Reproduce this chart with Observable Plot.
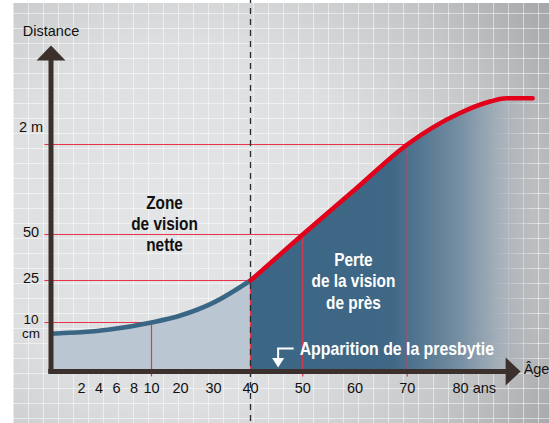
<!DOCTYPE html>
<html>
<head>
<meta charset="utf-8">
<script src="https://cdn.jsdelivr.net/npm/d3@7"></script>
<script src="https://cdn.jsdelivr.net/npm/@observablehq/plot@0.6"></script>
<style>
  html, body { margin: 0; padding: 0; background: #fff; }
  #wrap { position: relative; width: 549px; height: 423px; overflow: hidden; background: #fff; }
  #bg {
    position: absolute; left: 13px; top: 3px; right: 0; bottom: 0;
    background:
      repeating-linear-gradient(to right, rgba(255,255,255,0.5) 0 1px, transparent 1px 15px),
      repeating-linear-gradient(to bottom, rgba(255,255,255,0.5) 0 1px, transparent 1px 15px) 0 10px,
      radial-gradient(ellipse 430px 400px at 170px 220px, #e4e5e6 0%, #dedfe0 45%, #c4c6c8 75%, #a6a8aa 100%);
  }
  #chart { position: absolute; left: 0; top: 0; }
</style>
</head>
<body>
<div id="wrap"><div id="bg"></div><div id="chart"></div></div>
<script>
// ---- data ----
const ages      = [0,   5,   10, 20,   30,   40, 50, 60,  70,  80,  86,  89,  94];
const distances = [7.7, 8.5, 10, 12.5, 17.1, 25, 50, 125, 200, 252, 272, 277, 277];
const xTicks = [2, 4, 6, 8, 10, 20, 30, 40, 50, 60, 70];
const xLastTick = 80;
const yTicks = [10, 25, 50, 200];
const yTickLabels = ["10\ncm", "25", "50", "2 m"];
const markerAges = [10, 40, 50, 70];
const markerDistances = [10, 25, 50, 200];
const presbyopiaAge = 40;
const onsetAge = 45;
const xAxisEnd = 91.7;   // age at arrow tip
const yAxisEnd = 365;    // distance at arrow tip

const curve = ages.map((a, i) => ({age: a, dist: distances[i]}));
const before = curve.filter(d => d.age <= presbyopiaAge);
const after = curve.filter(d => d.age >= presbyopiaAge);
const markers = markerAges.map((a, i) => ({age: a, dist: markerDistances[i]}));
const yLabelData = yTicks.map((v, i) => ({v, label: yTickLabels[i]}));

const arrowUp = {draw(ctx) { ctx.moveTo(0, 0); ctx.lineTo(14.5, 15); ctx.lineTo(-14.5, 15); ctx.closePath(); }};
const arrowRight = {draw(ctx) { ctx.moveTo(0, 0); ctx.lineTo(-15, -14); ctx.lineTo(-15, 14); ctx.closePath(); }};
const cornerLine = {draw(ctx) { ctx.moveTo(17, -23); ctx.lineTo(1.5, -23); ctx.lineTo(1.5, -13); }};
const cornerHead = {draw(ctx) { ctx.moveTo(-4.5, -13.5); ctx.lineTo(7.5, -13.5); ctx.lineTo(1.5, -4); ctx.closePath(); }};

const axisColor = "#3b302b";
const red = "#e2001a";
const thinRed = "#e8334a";
const boldFont = "Liberation Sans, Arial, Helvetica, sans-serif";

const svg = Plot.plot({
  width: 549,
  height: 423,
  margin: 0,
  style: {background: "transparent", fontFamily: "Liberation Sans, Arial, Helvetica, sans-serif", overflow: "visible"},
  x: {type: "linear", domain: [0, 2, 10, 20, 30, 40, 80], range: [50.5, 81, 151, 180, 213, 250, 459], axis: null},
  y: {type: "linear", domain: [0, 10, 25, 50, 200, 300], range: [371, 322, 280, 234, 144, 84], axis: null},
  marks: [
    Plot.areaY(before, {x: "age", y: "dist", fill: "#bac7d3", curve: "monotone-x"}),
    Plot.areaY(after, {x: "age", y: "dist", fill: "url(#fade)", curve: "monotone-x"}),
    Plot.ruleY(markers, {y: "dist", x1: -0.4, x2: "age", stroke: thinRed, strokeWidth: 1.1}),
    Plot.ruleX(markers, {x: "age", y1: -1.1, y2: "dist", stroke: thinRed, strokeWidth: 1.2}),
    Plot.ruleX([presbyopiaAge], {stroke: "#2a2a2a", strokeWidth: 1.3, strokeDasharray: "6,5", strokeDashoffset: -8}),
    Plot.line(before, {x: "age", y: "dist", stroke: "#3a6685", strokeWidth: 4.5, curve: "monotone-x"}),
    Plot.line(after, {x: "age", y: "dist", stroke: red, strokeWidth: 4.5, curve: "monotone-x"}),
    // axes
    Plot.ruleY([0], {x1: -0.15, x2: xAxisEnd - 2.5, stroke: axisColor, strokeWidth: 5}),
    Plot.ruleX([0], {y1: -0.2, y2: yAxisEnd - 20, stroke: axisColor, strokeWidth: 5}),
    Plot.dot([{x: 0, y: yAxisEnd}], {x: "x", y: "y", symbol: arrowUp, fill: axisColor, stroke: "none"}),
    Plot.dot([{x: xAxisEnd, y: 0}], {x: "x", y: "y", symbol: arrowRight, fill: axisColor, stroke: "none"}),
    // axis labels
    Plot.text(["Distance"], {x: 0, y: yAxisEnd, dy: -14, text: d => d, fontSize: 14.5, fill: "#111"}),
    Plot.text(["Âge"], {x: xAxisEnd, y: 0, dx: 3, dy: -2, text: d => d, textAnchor: "start", fontSize: 14.5, fill: "#111"}),
    Plot.text(xTicks, {x: d => d, y: 0, dy: 17, text: d => String(d), fontSize: 14.5, fill: "#111"}),
    Plot.text([xLastTick], {x: d => d, y: 0, dy: 17, dx: -7, text: d => d + " ans", textAnchor: "start", fontSize: 14.5, fill: "#111"}),
    Plot.text(yLabelData.filter(d => d.v === 25 || d.v === 50), {x: 0, y: "v", dx: -20, dy: -2, text: "label", fontSize: 14.5, fill: "#111"}),
    Plot.text(yLabelData.filter(d => d.v === 200), {x: 0, y: "v", dx: -20, dy: -17, text: "label", fontSize: 14.5, fill: "#111"}),
    Plot.text(yLabelData.filter(d => d.v === 10), {x: 0, y: "v", dx: -20, dy: -9, text: "label", lineAnchor: "top", lineHeight: 1.08, fontSize: 13.5, fill: "#111"}),
    // annotations (condensed via horizontal scale after render)
    Plot.text(["Zone\nde vision\nnette"], {x: 14.5, y: 68, text: d => d, fontFamily: boldFont, fontWeight: "bold", fontSize: 17.5, lineHeight: 1.2, fill: "#111"}),
    Plot.text(["Perte\nde la vision\nde près"], {x: 59.7, y: 25, text: d => d, fontFamily: boldFont, fontWeight: "bold", fontSize: 17.5, lineHeight: 1.23, fill: "#fff"}),
    Plot.text(["Apparition de la presbytie"], {x: onsetAge, y: 0, dx: 23, dy: -22, text: d => d, textAnchor: "start", fontFamily: boldFont, fontWeight: "bold", fontSize: 18, fill: "#fff"}),
    Plot.dot([{x: onsetAge, y: 0}], {x: "x", y: "y", symbol: cornerLine, fill: "none", stroke: "#fff", strokeWidth: 2}),
    Plot.dot([{x: onsetAge, y: 0}], {x: "x", y: "y", symbol: cornerHead, fill: "#fff", stroke: "none"})
  ]
});

// condense the bold annotation texts
svg.querySelectorAll('g[font-weight="bold"] text').forEach(t => {
  const tr = t.getAttribute("transform") || "";
  t.setAttribute("transform", tr + " scale(0.88,1)");
});

const ns = "http://www.w3.org/2000/svg";
const defs = document.createElementNS(ns, "defs");
defs.innerHTML = `<linearGradient id="fade" x1="0" x2="1" y1="0" y2="0">
  <stop offset="0" stop-color="#3c6685"/>
  <stop offset="0.5" stop-color="#3f6886"/>
  <stop offset="0.63" stop-color="#5a7b94"/>
  <stop offset="0.75" stop-color="#7890a4"/>
  <stop offset="0.87" stop-color="#9daab6" stop-opacity="0.9"/>
  <stop offset="1" stop-color="#abb1b7" stop-opacity="0.1"/>
</linearGradient>`;
svg.insertBefore(defs, svg.firstChild);
document.getElementById("chart").appendChild(svg);
</script>
</body>
</html>
